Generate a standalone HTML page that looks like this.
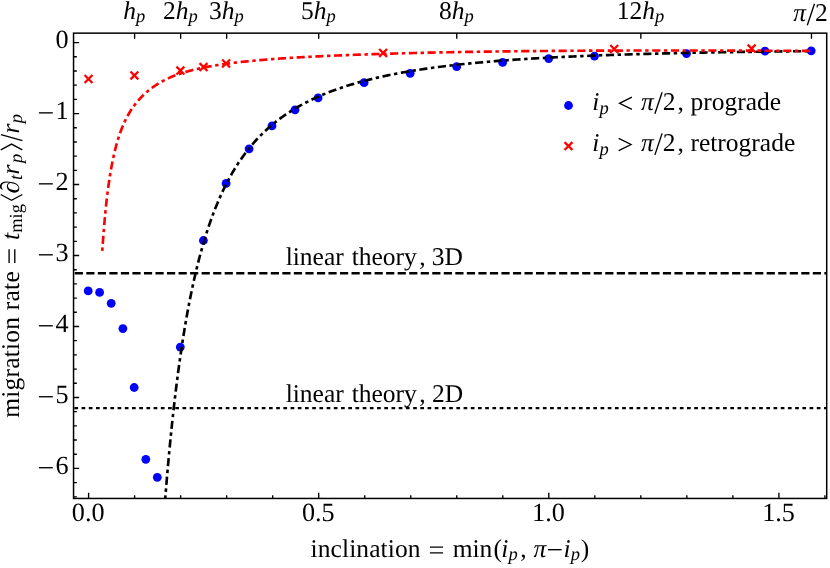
<!DOCTYPE html>
<html><head><meta charset="utf-8"><title>migration rate</title>
<style>html,body{margin:0;padding:0;background:#fff;}svg{display:block;will-change:transform;}text{font-family:"Liberation Serif",serif;fill:#000;font-kerning:none;font-variant-ligatures:none;text-rendering:geometricPrecision;}</style>
</head><body>
<svg width="830" height="568" viewBox="0 0 830 568">
<rect x="0" y="0" width="830" height="568" fill="#fff"/>
<defs><clipPath id="cp"><rect x="73.55" y="33.15" width="753.1500000000001" height="465.3"/></clipPath></defs>
<g clip-path="url(#cp)">
<g fill="#0000ff">
<circle cx="88.2" cy="290.90" r="4.4"/>
<circle cx="99.6" cy="292.40" r="4.4"/>
<circle cx="111.2" cy="303.30" r="4.4"/>
<circle cx="122.9" cy="328.60" r="4.4"/>
<circle cx="134.2" cy="387.50" r="4.4"/>
<circle cx="145.8" cy="459.30" r="4.4"/>
<circle cx="157.3" cy="477.30" r="4.4"/>
<circle cx="180.3" cy="347.10" r="4.4"/>
<circle cx="203.4" cy="240.50" r="4.4"/>
<circle cx="226.1" cy="183.40" r="4.4"/>
<circle cx="249.1" cy="148.80" r="4.4"/>
<circle cx="272.0" cy="125.90" r="4.4"/>
<circle cx="295.0" cy="109.80" r="4.4"/>
<circle cx="318.1" cy="97.90" r="4.4"/>
<circle cx="364.1" cy="82.70" r="4.4"/>
<circle cx="410.2" cy="73.30" r="4.4"/>
<circle cx="456.7" cy="66.70" r="4.4"/>
<circle cx="502.6" cy="62.40" r="4.4"/>
<circle cx="548.7" cy="58.60" r="4.4"/>
<circle cx="594.5" cy="56.10" r="4.4"/>
<circle cx="686.5" cy="53.60" r="4.4"/>
<circle cx="765.0" cy="51.10" r="4.4"/>
<circle cx="811.2" cy="50.80" r="4.4"/>
</g>
<path d="M84.55,75.05 L92.45,82.95 M84.55,82.95 L92.45,75.05" stroke="#ff0000" stroke-width="2.3" fill="none"/>
<path d="M130.45,71.45 L138.35,79.35 M130.45,79.35 L138.35,71.45" stroke="#ff0000" stroke-width="2.3" fill="none"/>
<path d="M176.45,66.65 L184.35,74.55 M176.45,74.55 L184.35,66.65" stroke="#ff0000" stroke-width="2.3" fill="none"/>
<path d="M199.55,63.15 L207.45,71.05 M199.55,71.05 L207.45,63.15" stroke="#ff0000" stroke-width="2.3" fill="none"/>
<path d="M222.15,59.55 L230.05,67.45 M222.15,67.45 L230.05,59.55" stroke="#ff0000" stroke-width="2.3" fill="none"/>
<path d="M379.15,48.95 L387.05,56.85 M379.15,56.85 L387.05,48.95" stroke="#ff0000" stroke-width="2.3" fill="none"/>
<path d="M610.25,45.05 L618.15,52.95 M610.25,52.95 L618.15,45.05" stroke="#ff0000" stroke-width="2.3" fill="none"/>
<path d="M747.65,44.65 L755.55,52.55 M747.65,52.55 L755.55,44.65" stroke="#ff0000" stroke-width="2.3" fill="none"/>
<path d="M73.55,273.25 H826.7" stroke="#000" stroke-width="2.7" stroke-dasharray="8.2 3.332" stroke-dashoffset="-1.2" fill="none"/>
<path d="M73.55,408.10 H826.7" stroke="#000" stroke-width="2.2" stroke-dasharray="3.7 3.508" stroke-dashoffset="-0.8" fill="none"/>
<path d="M159.93,573.95 L160.35,567.34 L160.76,560.82 L161.18,554.39 L161.61,548.05 L162.03,541.80 L162.46,535.63 L162.89,529.55 L163.32,523.55 L163.76,517.64 L164.19,511.81 L164.63,506.05 L165.08,500.38 L165.52,494.78 L165.97,489.26 L166.42,483.81 L166.87,478.44 L167.33,473.14 L167.79,467.92 L168.25,462.76 L168.71,457.67 L169.18,452.65 L169.65,447.70 L170.12,442.82 L170.59,438.00 L171.07,433.24 L171.55,428.55 L172.03,423.92 L172.52,419.35 L173.01,414.85 L173.50,410.40 L173.99,406.01 L174.49,401.68 L174.99,397.41 L175.49,393.19 L176.00,389.03 L176.51,384.92 L177.02,380.87 L177.53,376.87 L178.05,372.92 L178.57,369.03 L179.10,365.18 L179.62,361.38 L180.15,357.64 L180.69,353.94 L181.22,350.29 L181.76,346.69 L182.30,343.13 L182.85,339.62 L183.40,336.15 L183.95,332.73 L184.50,329.35 L185.06,326.02 L185.62,322.73 L186.19,319.48 L186.76,316.27 L187.33,313.10 L187.90,309.97 L188.48,306.88 L189.06,303.83 L189.65,300.82 L190.24,297.85 L190.83,294.91 L191.42,292.01 L192.02,289.15 L192.62,286.33 L193.23,283.53 L193.84,280.78 L194.45,278.06 L195.07,275.37 L195.69,272.71 L196.31,270.09 L196.94,267.50 L197.57,264.94 L198.20,262.42 L198.84,259.92 L199.48,257.46 L200.13,255.02 L200.78,252.62 L201.43,250.24 L202.09,247.90 L202.75,245.58 L203.41,243.29 L204.08,241.03 L204.75,238.79 L205.43,236.59 L206.11,234.41 L206.79,232.25 L207.48,230.13 L208.17,228.02 L208.87,225.95 L209.57,223.89 L210.27,221.87 L210.98,219.86 L211.69,217.88 L212.41,215.93 L213.13,214.00 L213.85,212.09 L214.58,210.20 L215.32,208.34 L216.05,206.50 L216.80,204.68 L217.54,202.88 L218.29,201.10 L219.05,199.34 L219.81,197.61 L220.57,195.89 L221.34,194.20 L222.11,192.52 L222.89,190.87 L223.67,189.23 L224.46,187.61 L225.25,186.01 L226.04,184.43 L226.84,182.87 L227.65,181.33 L228.46,179.80 L229.27,178.30 L230.09,176.81 L230.91,175.33 L231.74,173.88 L232.58,172.44 L233.41,171.01 L234.26,169.61 L235.11,168.22 L235.96,166.84 L236.82,165.48 L237.68,164.14 L238.55,162.81 L239.42,161.50 L240.30,160.20 L241.18,158.92 L242.07,157.65 L242.96,156.40 L243.86,155.16 L244.76,153.93 L245.67,152.72 L246.59,151.52 L247.51,150.34 L248.43,149.16 L249.36,148.01 L250.30,146.86 L251.24,145.73 L252.19,144.61 L253.14,143.50 L254.10,142.41 L255.06,141.32 L256.03,140.25 L257.00,139.19 L257.98,138.15 L258.97,137.11 L259.96,136.09 L260.96,135.08 L261.96,134.07 L262.97,133.08 L263.99,132.10 L265.01,131.14 L266.04,130.18 L267.07,129.23 L268.11,128.29 L269.15,127.37 L270.20,126.45 L271.26,125.54 L272.32,124.65 L273.39,123.76 L274.47,122.89 L275.55,122.02 L276.64,121.16 L277.73,120.31 L278.83,119.47 L279.94,118.64 L281.06,117.82 L282.18,117.01 L283.30,116.21 L284.44,115.41 L285.58,114.62 L286.72,113.85 L287.88,113.08 L289.04,112.32 L290.20,111.56 L291.38,110.82 L292.56,110.08 L293.74,109.35 L294.94,108.63 L296.14,107.92 L297.35,107.22 L298.56,106.52 L299.78,105.83 L301.01,105.14 L302.25,104.47 L303.49,103.80 L304.75,103.14 L306.00,102.48 L307.27,101.84 L308.54,101.20 L309.82,100.56 L311.11,99.94 L312.41,99.32 L313.71,98.70 L315.02,98.10 L316.34,97.49 L317.66,96.90 L319.00,96.31 L320.34,95.73 L321.69,95.15 L323.04,94.59 L324.41,94.02 L325.78,93.46 L327.16,92.91 L328.55,92.37 L329.95,91.83 L331.35,91.29 L332.76,90.76 L334.19,90.24 L335.62,89.72 L337.05,89.21 L338.50,88.70 L339.95,88.20 L341.42,87.71 L342.89,87.21 L344.37,86.73 L345.86,86.25 L347.36,85.77 L348.86,85.30 L350.38,84.83 L351.90,84.37 L353.43,83.92 L354.98,83.47 L356.53,83.02 L358.09,82.58 L359.65,82.14 L361.23,81.71 L362.82,81.28 L364.42,80.85 L366.02,80.44 L367.64,80.02 L369.26,79.61 L370.89,79.20 L372.54,78.80 L374.19,78.40 L375.85,78.01 L377.52,77.62 L379.21,77.24 L380.90,76.85 L382.60,76.48 L384.31,76.11 L386.03,75.74 L387.76,75.37 L389.51,75.01 L391.26,74.66 L393.02,74.30 L394.79,73.96 L396.57,73.61 L398.37,73.27 L400.17,72.93 L401.98,72.60 L403.81,72.27 L405.64,71.95 L407.49,71.63 L409.34,71.31 L411.21,71.00 L413.09,70.69 L414.98,70.38 L416.88,70.08 L418.79,69.78 L420.71,69.48 L422.64,69.19 L424.59,68.90 L426.54,68.61 L428.51,68.33 L430.49,68.05 L432.48,67.78 L434.48,67.51 L436.50,67.24 L438.52,66.97 L440.56,66.71 L442.61,66.45 L444.67,66.20 L446.74,65.94 L448.82,65.70 L450.92,65.45 L453.03,65.21 L455.15,64.97 L457.29,64.73 L459.43,64.49 L461.59,64.26 L463.76,64.04 L465.95,63.81 L468.14,63.59 L470.35,63.37 L472.57,63.15 L474.81,62.94 L477.06,62.72 L479.32,62.52 L481.59,62.31 L483.88,62.11 L486.18,61.91 L488.50,61.71 L490.82,61.51 L493.17,61.32 L495.52,61.13 L497.89,60.94 L500.27,60.75 L502.67,60.57 L505.08,60.39 L507.50,60.21 L509.94,60.04 L512.39,59.86 L514.86,59.69 L517.34,59.52 L519.84,59.36 L522.35,59.19 L524.87,59.03 L527.41,58.87 L529.97,58.71 L532.54,58.55 L535.12,58.40 L537.72,58.25 L540.34,58.10 L542.96,57.95 L545.61,57.81 L548.27,57.66 L550.95,57.52 L553.64,57.38 L556.34,57.24 L559.07,57.11 L561.81,56.97 L564.56,56.84 L567.33,56.71 L570.12,56.58 L572.92,56.46 L575.74,56.33 L578.58,56.21 L581.43,56.09 L584.30,55.97 L587.18,55.85 L590.08,55.73 L593.00,55.62 L595.94,55.51 L598.89,55.39 L601.86,55.28 L604.85,55.18 L607.86,55.07 L610.88,54.96 L613.92,54.86 L616.98,54.76 L620.05,54.66 L623.15,54.56 L626.26,54.46 L629.39,54.37 L632.54,54.27 L635.70,54.18 L638.89,54.09 L642.09,54.00 L645.31,53.91 L648.55,53.82 L651.81,53.73 L655.09,53.65 L658.39,53.56 L661.71,53.48 L665.04,53.40 L668.40,53.32 L671.77,53.24 L675.17,53.17 L678.58,53.09 L682.02,53.01 L685.47,52.94 L688.95,52.87 L692.44,52.80 L695.96,52.73 L699.49,52.66 L703.05,52.59 L706.62,52.52 L710.22,52.46 L713.84,52.39 L717.48,52.33 L721.14,52.27 L724.82,52.21 L728.53,52.15 L732.25,52.09 L736.00,52.03 L739.77,51.97 L743.56,51.92 L747.37,51.86 L751.21,51.81 L755.06,51.75 L758.94,51.70 L762.84,51.65 L766.77,51.60 L770.72,51.55 L774.69,51.50 L778.68,51.46 L782.70,51.41 L786.74,51.37 L790.80,51.32 L794.89,51.28 L799.00,51.24 L803.14,51.19 L807.30,51.15 L811.48,51.11" stroke="#000" stroke-width="2.65" stroke-dasharray="8.15 3.57 3.43 3.57" stroke-dashoffset="4.21" fill="none"/>
<path d="M102.24,251.34 L102.34,249.83 L102.44,248.32 L102.54,246.82 L102.64,245.34 L102.75,243.86 L102.85,242.40 L102.95,240.94 L103.06,239.50 L103.16,238.06 L103.27,236.64 L103.38,235.23 L103.49,233.82 L103.60,232.43 L103.70,231.05 L103.82,229.68 L103.93,228.31 L104.04,226.96 L104.15,225.61 L104.27,224.28 L104.38,222.96 L104.49,221.64 L104.61,220.34 L104.73,219.04 L104.85,217.75 L104.96,216.48 L105.08,215.21 L105.21,213.95 L105.33,212.70 L105.45,211.46 L105.57,210.23 L105.70,209.01 L105.82,207.79 L105.95,206.59 L106.07,205.39 L106.20,204.20 L106.33,203.02 L106.46,201.85 L106.59,200.69 L106.72,199.54 L106.85,198.40 L106.99,197.26 L107.12,196.13 L107.26,195.01 L107.39,193.90 L107.53,192.80 L107.67,191.70 L107.81,190.61 L107.95,189.54 L108.09,188.46 L108.23,187.40 L108.38,186.35 L108.52,185.30 L108.67,184.26 L108.81,183.23 L108.96,182.20 L109.11,181.19 L109.26,180.18 L109.41,179.17 L109.56,178.18 L109.72,177.19 L109.87,176.21 L110.03,175.24 L110.18,174.28 L110.34,173.32 L110.50,172.37 L110.66,171.42 L110.82,170.49 L110.98,169.56 L111.15,168.63 L111.31,167.72 L111.48,166.81 L111.65,165.91 L111.82,165.01 L111.99,164.12 L112.16,163.24 L112.33,162.36 L112.50,161.49 L112.68,160.63 L112.85,159.78 L113.03,158.93 L113.21,158.08 L113.39,157.25 L113.57,156.41 L113.75,155.59 L113.94,154.77 L114.12,153.96 L114.31,153.15 L114.50,152.35 L114.69,151.56 L114.88,150.77 L115.07,149.99 L115.26,149.21 L115.46,148.44 L115.65,147.68 L115.85,146.92 L116.05,146.17 L116.25,145.42 L116.45,144.68 L116.66,143.94 L116.86,143.21 L117.07,142.49 L117.28,141.77 L117.49,141.06 L117.70,140.35 L117.91,139.64 L118.12,138.95 L118.34,138.25 L118.56,137.57 L118.78,136.88 L119.00,136.21 L119.22,135.54 L119.44,134.87 L119.67,134.21 L119.90,133.55 L120.12,132.90 L120.36,132.25 L120.59,131.61 L120.82,130.98 L121.06,130.34 L121.29,129.72 L121.53,129.10 L121.77,128.48 L122.02,127.87 L122.26,127.26 L122.51,126.65 L122.75,126.06 L123.00,125.46 L123.26,124.87 L123.51,124.29 L123.76,123.71 L124.02,123.13 L124.28,122.56 L124.54,121.99 L124.80,121.43 L125.07,120.87 L125.34,120.31 L125.60,119.76 L125.88,119.22 L126.15,118.67 L126.42,118.14 L126.70,117.60 L126.98,117.07 L127.26,116.55 L127.54,116.02 L127.83,115.50 L128.11,114.99 L128.40,114.48 L128.69,113.97 L128.98,113.47 L129.28,112.97 L129.58,112.47 L129.88,111.98 L130.18,111.49 L130.48,111.00 L130.79,110.52 L131.10,110.04 L131.41,109.56 L131.72,109.09 L132.04,108.62 L132.35,108.15 L132.67,107.68 L133.00,107.22 L133.32,106.77 L133.65,106.31 L133.98,105.86 L134.31,105.41 L134.64,104.96 L134.98,104.52 L135.32,104.08 L135.66,103.64 L136.00,103.21 L136.35,102.78 L136.70,102.35 L137.05,101.92 L137.41,101.50 L137.76,101.07 L138.12,100.66 L138.48,100.24 L138.85,99.83 L139.22,99.41 L139.59,99.01 L139.96,98.60 L140.34,98.20 L140.71,97.80 L141.09,97.40 L141.48,97.00 L141.86,96.61 L142.25,96.21 L142.65,95.83 L143.04,95.44 L143.44,95.05 L143.84,94.67 L144.24,94.29 L144.65,93.91 L145.06,93.54 L145.47,93.16 L145.89,92.79 L146.31,92.42 L146.73,92.05 L147.16,91.69 L147.58,91.32 L148.02,90.96 L148.45,90.60 L148.89,90.25 L149.33,89.89 L149.77,89.54 L150.22,89.19 L150.67,88.84 L151.12,88.49 L151.58,88.15 L152.04,87.81 L152.51,87.47 L152.97,87.13 L153.44,86.80 L153.92,86.46 L154.39,86.13 L154.88,85.81 L155.36,85.48 L155.85,85.16 L156.34,84.84 L156.84,84.52 L157.33,84.20 L157.84,83.89 L158.34,83.58 L158.85,83.27 L159.37,82.96 L159.88,82.66 L160.41,82.35 L160.93,82.06 L161.46,81.76 L161.99,81.46 L162.53,81.17 L163.07,80.88 L163.61,80.60 L164.16,80.31 L164.71,80.03 L165.27,79.75 L165.83,79.47 L166.40,79.20 L166.96,78.92 L167.54,78.65 L168.11,78.39 L168.70,78.12 L169.28,77.86 L169.87,77.60 L170.47,77.34 L171.06,77.08 L171.67,76.83 L172.27,76.58 L172.89,76.33 L173.50,76.08 L174.12,75.84 L174.75,75.60 L175.38,75.36 L176.01,75.12 L176.65,74.89 L177.30,74.65 L177.94,74.42 L178.60,74.19 L179.26,73.97 L179.92,73.74 L180.59,73.52 L181.26,73.30 L181.94,73.08 L182.62,72.87 L183.31,72.65 L184.00,72.44 L184.70,72.23 L185.40,72.02 L186.11,71.81 L186.82,71.61 L187.54,71.41 L188.26,71.20 L188.99,71.00 L189.72,70.81 L190.46,70.61 L191.21,70.42 L191.96,70.22 L192.71,70.03 L193.47,69.84 L194.24,69.66 L195.01,69.47 L195.79,69.29 L196.58,69.10 L197.37,68.92 L198.16,68.74 L198.96,68.56 L199.77,68.39 L200.58,68.21 L201.40,68.04 L202.22,67.87 L203.06,67.70 L203.89,67.53 L204.74,67.36 L205.58,67.19 L206.44,67.03 L207.30,66.87 L208.17,66.70 L209.04,66.54 L209.92,66.38 L210.81,66.23 L211.70,66.07 L212.60,65.91 L213.51,65.76 L214.42,65.61 L215.34,65.46 L216.27,65.31 L217.20,65.16 L218.14,65.01 L219.09,64.86 L220.05,64.72 L221.01,64.57 L221.98,64.43 L222.95,64.29 L223.93,64.15 L224.92,64.01 L225.92,63.87 L226.92,63.73 L227.93,63.60 L228.95,63.46 L229.98,63.33 L231.01,63.19 L232.05,63.06 L233.10,62.93 L234.16,62.80 L235.22,62.67 L236.30,62.54 L237.38,62.42 L238.46,62.29 L239.56,62.17 L240.66,62.04 L241.77,61.92 L242.89,61.80 L244.02,61.68 L245.16,61.56 L246.30,61.44 L247.46,61.32 L248.62,61.20 L249.79,61.09 L250.97,60.97 L252.15,60.86 L253.35,60.74 L254.55,60.63 L255.77,60.52 L256.99,60.41 L258.22,60.30 L259.46,60.19 L260.71,60.08 L261.97,59.97 L263.24,59.86 L264.51,59.76 L265.80,59.65 L267.09,59.55 L268.40,59.44 L269.71,59.34 L271.04,59.24 L272.37,59.14 L273.72,59.03 L275.07,58.93 L276.43,58.84 L277.81,58.74 L279.19,58.64 L280.58,58.54 L281.99,58.44 L283.40,58.35 L284.82,58.25 L286.26,58.16 L287.70,58.07 L289.16,57.97 L290.63,57.88 L292.10,57.79 L293.59,57.70 L295.09,57.61 L296.60,57.52 L298.12,57.43 L299.65,57.34 L301.20,57.25 L302.75,57.16 L304.32,57.08 L305.89,56.99 L307.48,56.91 L309.08,56.82 L310.69,56.74 L312.32,56.65 L313.95,56.57 L315.60,56.49 L317.26,56.40 L318.93,56.32 L320.62,56.24 L322.31,56.16 L324.02,56.08 L325.74,56.00 L327.48,55.92 L329.22,55.85 L330.98,55.77 L332.76,55.69 L334.54,55.61 L336.34,55.54 L338.15,55.46 L339.97,55.39 L341.81,55.31 L343.66,55.24 L345.53,55.16 L347.41,55.09 L349.30,55.02 L351.21,54.95 L353.13,54.87 L355.06,54.80 L357.01,54.73 L358.97,54.66 L360.95,54.59 L362.94,54.52 L364.94,54.45 L366.96,54.38 L369.00,54.32 L371.05,54.25 L373.12,54.18 L375.20,54.11 L377.29,54.05 L379.40,53.98 L381.53,53.92 L383.67,53.85 L385.83,53.79 L388.00,53.72 L390.19,53.66 L392.39,53.59 L394.62,53.53 L396.85,53.47 L399.11,53.41 L401.38,53.35 L403.66,53.28 L405.97,53.22 L408.29,53.16 L410.62,53.10 L412.98,53.05 L415.35,52.99 L417.74,52.93 L420.15,52.87 L422.57,52.82 L425.01,52.76 L427.47,52.70 L429.95,52.65 L432.45,52.59 L434.96,52.54 L437.49,52.49 L440.04,52.43 L442.61,52.38 L445.20,52.33 L447.81,52.28 L450.43,52.23 L453.08,52.18 L455.74,52.13 L458.43,52.08 L461.13,52.03 L463.86,51.99 L466.60,51.94 L469.36,51.89 L472.15,51.85 L474.95,51.81 L477.78,51.76 L480.62,51.72 L483.49,51.68 L486.38,51.63 L489.28,51.59 L492.21,51.55 L495.16,51.51 L498.14,51.47 L501.13,51.44 L504.15,51.40 L507.19,51.36 L510.25,51.32 L513.33,51.29 L516.43,51.25 L519.56,51.22 L522.71,51.19 L525.89,51.15 L529.08,51.12 L532.31,51.09 L535.55,51.06 L538.82,51.03 L542.11,51.00 L545.42,50.97 L548.77,50.95 L552.13,50.92 L555.52,50.89 L558.93,50.87 L562.37,50.84 L565.84,50.82 L569.32,50.80 L572.84,50.78 L576.38,50.75 L579.95,50.73 L583.54,50.71 L587.16,50.69 L590.80,50.68 L594.47,50.66 L598.17,50.64 L601.90,50.63 L605.65,50.61 L609.43,50.60 L613.24,50.58 L617.08,50.57 L620.94,50.56 L624.83,50.55 L628.75,50.54 L632.70,50.53 L636.68,50.52 L640.69,50.51 L644.72,50.51 L648.79,50.50 L652.89,50.50 L657.01,50.49 L661.17,50.49 L665.35,50.49 L669.57,50.49 L673.82,50.49 L678.10,50.49 L682.41,50.49 L686.75,50.49 L691.12,50.50 L695.53,50.50 L699.96,50.51 L704.43,50.51 L708.94,50.52 L713.47,50.53 L718.04,50.54 L722.64,50.55 L727.28,50.56 L731.95,50.58 L736.65,50.59 L741.39,50.61 L746.16,50.62 L750.97,50.64 L755.81,50.66 L760.69,50.68 L765.61,50.70 L770.56,50.72 L775.54,50.75 L780.56,50.77 L785.62,50.80 L790.72,50.83 L795.85,50.86 L801.02,50.89 L806.23,50.92 L811.48,50.95" stroke="#ff0000" stroke-width="2.65" stroke-dasharray="8.15 3.57 3.43 3.57" stroke-dashoffset="11.25" fill="none"/>
</g>
<rect x="73.55" y="33.15" width="753.1500000000001" height="465.3" fill="none" stroke="#000" stroke-width="1.5"/>
<path d="M73.55,496.81 h3.3 M73.55,482.61 h3.3 M73.55,468.42 h5.6 M73.55,454.23 h3.3 M73.55,440.03 h3.3 M73.55,425.84 h3.3 M73.55,411.64 h3.3 M73.55,397.45 h5.6 M73.55,383.26 h3.3 M73.55,369.06 h3.3 M73.55,354.87 h3.3 M73.55,340.67 h3.3 M73.55,326.48 h5.6 M73.55,312.29 h3.3 M73.55,298.09 h3.3 M73.55,283.90 h3.3 M73.55,269.70 h3.3 M73.55,255.51 h5.6 M73.55,241.32 h3.3 M73.55,227.12 h3.3 M73.55,212.93 h3.3 M73.55,198.73 h3.3 M73.55,184.54 h5.6 M73.55,170.35 h3.3 M73.55,156.15 h3.3 M73.55,141.96 h3.3 M73.55,127.76 h3.3 M73.55,113.57 h5.6 M73.55,99.38 h3.3 M73.55,85.18 h3.3 M73.55,70.99 h3.3 M73.55,56.79 h3.3 M73.55,42.60 h5.6 M88.60,498.45 v-5.6 M134.62,498.45 v-3.3 M180.64,498.45 v-3.3 M226.66,498.45 v-3.3 M272.68,498.45 v-3.3 M318.70,498.45 v-5.6 M364.72,498.45 v-3.3 M410.74,498.45 v-3.3 M456.76,498.45 v-3.3 M502.78,498.45 v-3.3 M548.80,498.45 v-5.6 M594.82,498.45 v-3.3 M640.84,498.45 v-3.3 M686.86,498.45 v-3.3 M732.88,498.45 v-3.3 M778.90,498.45 v-5.6 M824.92,498.45 v-3.3 M134.62,33.15 v5.6 M180.64,33.15 v5.6 M226.66,33.15 v5.6 M318.70,33.15 v5.6 M456.76,33.15 v5.6 M640.84,33.15 v5.6 M811.48,33.15 v5.6" stroke="#000" stroke-width="1.35" fill="none"/>
<text x="68.5" y="48.20" font-size="26.2" text-anchor="end">0</text>
<text x="68.5" y="119.17" font-size="26.2" text-anchor="end">1</text>
<path d="M38.9,112.87 h13.9" stroke="#000" stroke-width="1.35" fill="none"/>
<text x="68.5" y="190.14" font-size="26.2" text-anchor="end">2</text>
<path d="M38.9,183.84 h13.9" stroke="#000" stroke-width="1.35" fill="none"/>
<text x="68.5" y="261.11" font-size="26.2" text-anchor="end">3</text>
<path d="M38.9,254.81 h13.9" stroke="#000" stroke-width="1.35" fill="none"/>
<text x="68.5" y="332.08" font-size="26.2" text-anchor="end">4</text>
<path d="M38.9,325.78 h13.9" stroke="#000" stroke-width="1.35" fill="none"/>
<text x="68.5" y="403.05" font-size="26.2" text-anchor="end">5</text>
<path d="M38.9,396.75 h13.9" stroke="#000" stroke-width="1.35" fill="none"/>
<text x="68.5" y="474.02" font-size="26.2" text-anchor="end">6</text>
<path d="M38.9,467.72 h13.9" stroke="#000" stroke-width="1.35" fill="none"/>
<text x="88.20" y="521.4" font-size="26.2" text-anchor="middle">0.0</text>
<text x="318.30" y="521.4" font-size="26.2" text-anchor="middle">0.5</text>
<text x="548.40" y="521.4" font-size="26.2" text-anchor="middle">1.0</text>
<text x="778.50" y="521.4" font-size="26.2" text-anchor="middle">1.5</text>
<text x="134.32" y="18.7" font-size="25.5" text-anchor="middle"><tspan font-style="italic">h</tspan><tspan font-style="italic" font-size="18.5" dy="3.7">p</tspan></text>
<text x="180.34" y="18.7" font-size="25.5" text-anchor="middle">2<tspan font-style="italic">h</tspan><tspan font-style="italic" font-size="18.5" dy="3.7">p</tspan></text>
<text x="226.36" y="18.7" font-size="25.5" text-anchor="middle">3<tspan font-style="italic">h</tspan><tspan font-style="italic" font-size="18.5" dy="3.7">p</tspan></text>
<text x="318.40" y="18.7" font-size="25.5" text-anchor="middle">5<tspan font-style="italic">h</tspan><tspan font-style="italic" font-size="18.5" dy="3.7">p</tspan></text>
<text x="456.46" y="18.7" font-size="25.5" text-anchor="middle">8<tspan font-style="italic">h</tspan><tspan font-style="italic" font-size="18.5" dy="3.7">p</tspan></text>
<text x="640.54" y="18.7" font-size="25.5" text-anchor="middle">12<tspan font-style="italic">h</tspan><tspan font-style="italic" font-size="18.5" dy="3.7">p</tspan></text>
<text x="793.32" y="21.40" font-size="25.5" font-style="italic">π</text>
<path d="M807.30,25.30 L814.50,3.80" stroke="#000" stroke-width="1.35" fill="none"/>
<text x="814.98" y="21.40" font-size="25.5">2</text>
<text x="310.53" y="556.60" font-size="25.5" letter-spacing="0.1">inclination</text>
<path d="M429.90,547.15 h13.2 M429.90,552.85 h13.2" stroke="#000" stroke-width="1.35" fill="none"/>
<text x="452.65" y="556.60" font-size="25.5">min</text>
<text x="493.38" y="556.60" font-size="25.5">(</text>
<text x="501.27" y="556.60" font-size="25.5" font-style="italic">i</text>
<text x="508.48" y="560.30" font-size="18.5" font-style="italic">p</text>
<text x="520.25" y="556.60" font-size="25.5">,</text>
<text x="533.52" y="556.60" font-size="25.5" font-style="italic">π</text>
<path d="M548.00,549.70 h13.6" stroke="#000" stroke-width="1.35" fill="none"/>
<text x="563.47" y="556.60" font-size="25.5" font-style="italic">i</text>
<text x="570.68" y="560.30" font-size="18.5" font-style="italic">p</text>
<text x="580.77" y="556.60" font-size="25.5">)</text>
<g transform="translate(18.55,417.6) rotate(-90)">
<text x="-0.25" y="0.00" font-size="25.5" letter-spacing="0.22">migration rate</text>
<path d="M154.70,-9.45 h13.6 M154.70,-3.75 h13.6" stroke="#000" stroke-width="1.35" fill="none"/>
<text x="177.57" y="0.00" font-size="25.5" font-style="italic">t</text>
<text x="184.79" y="3.70" font-size="18.5">mig</text>
<path d="M223.10,-17.80 L217.30,-7.00 L223.10,3.80" stroke="#000" stroke-width="1.35" fill="none" stroke-linejoin="miter"/>
<text x="224.21" y="0.00" font-size="26.5" font-style="italic">∂</text>
<text x="237.59" y="3.70" font-size="18.5" font-style="italic">t</text>
<text x="243.18" y="0.00" font-size="25.5" font-style="italic">r</text>
<text x="254.68" y="3.70" font-size="18.5" font-style="italic">p</text>
<path d="M267.70,-17.80 L273.50,-7.00 L267.70,3.80" stroke="#000" stroke-width="1.35" fill="none" stroke-linejoin="miter"/>
<path d="M276.90,3.90 L282.90,-17.60" stroke="#000" stroke-width="1.35" fill="none"/>
<text x="284.08" y="0.00" font-size="25.5" font-style="italic">r</text>
<text x="294.28" y="3.70" font-size="18.5" font-style="italic">p</text>
</g>
<text x="285.65" y="265.00" font-size="25.5">linear</text>
<text x="351.65" y="265.00" font-size="25.5">theory</text>
<text x="419.35" y="265.00" font-size="25.5">,</text>
<text x="431.84" y="265.00" font-size="25.5">3D</text>
<text x="285.65" y="402.40" font-size="25.5">linear</text>
<text x="351.65" y="402.40" font-size="25.5">theory</text>
<text x="419.35" y="402.40" font-size="25.5">,</text>
<text x="431.98" y="402.40" font-size="25.5">2D</text>
<circle cx="568.5" cy="105.5" r="4.4" fill="#0000ff"/>
<path d="M564.55,142.15 L572.45,150.05 M564.55,150.05 L572.45,142.15" stroke="#ff0000" stroke-width="2.3" fill="none"/>
<text x="592.27" y="109.80" font-size="25.5" font-style="italic">i</text>
<text x="599.38" y="113.50" font-size="18.5" font-style="italic">p</text>
<path d="M631.90,97.20 L619.60,103.30 L631.90,109.40" stroke="#000" stroke-width="1.35" fill="none" stroke-linejoin="miter" stroke-miterlimit="10"/>
<text x="640.92" y="109.80" font-size="25.5" font-style="italic">π</text>
<path d="M654.90,113.70 L662.10,92.20" stroke="#000" stroke-width="1.35" fill="none"/>
<text x="662.68" y="109.80" font-size="25.5">2</text>
<text x="677.55" y="109.80" font-size="25.5">,</text>
<text x="690.45" y="109.80" font-size="25.5">prograde</text>
<text x="592.27" y="151.00" font-size="25.5" font-style="italic">i</text>
<text x="599.38" y="154.70" font-size="18.5" font-style="italic">p</text>
<path d="M618.70,138.40 L631.00,144.50 L618.70,150.60" stroke="#000" stroke-width="1.35" fill="none" stroke-linejoin="miter" stroke-miterlimit="10"/>
<text x="640.92" y="151.00" font-size="25.5" font-style="italic">π</text>
<path d="M654.90,154.90 L662.10,133.40" stroke="#000" stroke-width="1.35" fill="none"/>
<text x="662.68" y="151.00" font-size="25.5">2</text>
<text x="677.55" y="151.00" font-size="25.5">,</text>
<text x="690.46" y="151.00" font-size="25.5">retrograde</text>
</svg></body></html>
